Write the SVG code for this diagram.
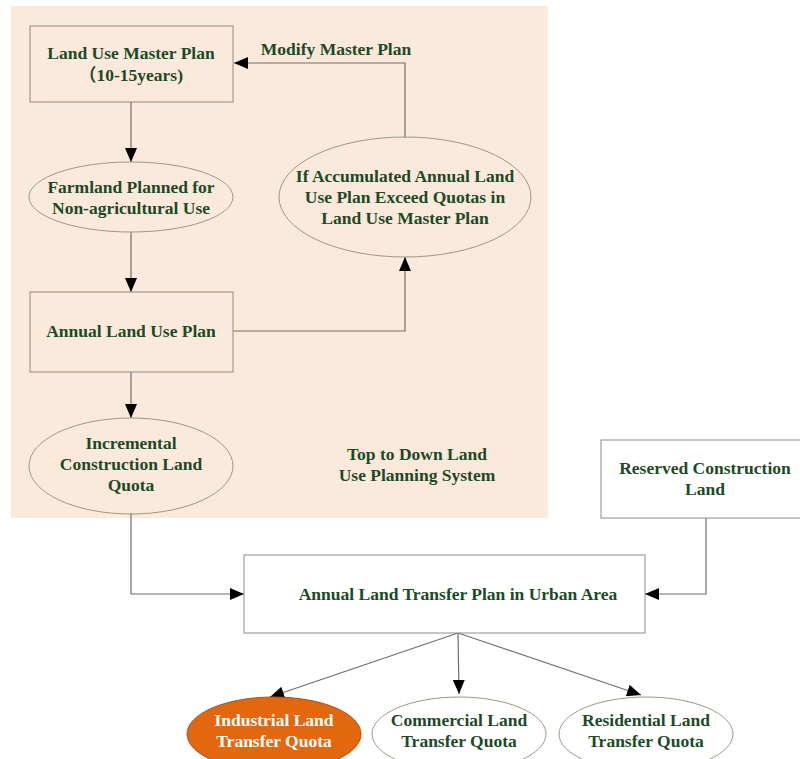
<svg xmlns="http://www.w3.org/2000/svg" width="800" height="759" viewBox="0 0 800 759">
<style>
text{font-family:"Liberation Serif","Times New Roman","Noto Sans CJK SC",serif;font-weight:bold;font-size:17.5px;fill:#1c4a26;text-anchor:middle}
.box{fill:none;stroke:#8c8c8c;stroke-width:1}
.wbox{fill:#fff;stroke:#8c8c8c;stroke-width:1}
.ell{fill:none;stroke:#9a9a84;stroke-width:1}
.wel{fill:#fff;stroke:#9a9a84;stroke-width:1}
.c{fill:none;stroke:#707070;stroke-width:1.2}
</style>
<defs>
<marker id="ah" viewBox="0 0 14 12" refX="14" refY="6" markerWidth="14" markerHeight="12" markerUnits="userSpaceOnUse" orient="auto">
<path d="M0,0 L14,6 L0,12 Z" fill="#000"/>
</marker>
</defs>
<rect x="0" y="0" width="800" height="759" fill="#fff"/>
<rect id="bg" x="11" y="6" width="537" height="512" fill="#fbe9dc"/>

<g id="connectors">
<path class="c" d="M131,102 V162" marker-end="url(#ah)"/>
<path class="c" d="M131,232 V292" marker-end="url(#ah)"/>
<path class="c" d="M233,331 H405 V257" marker-end="url(#ah)"/>
<path class="c" d="M405,138 V63 H234" marker-end="url(#ah)"/>
<path class="c" d="M131,372 V418" marker-end="url(#ah)"/>
<path class="c" d="M131,513 V594 H244" marker-end="url(#ah)"/>
<path class="c" d="M706,518 V594 H645" marker-end="url(#ah)"/>
<path class="c" d="M458,633 L270,697" marker-end="url(#ah)"/>
<path class="c" d="M458,633 L459,694" marker-end="url(#ah)"/>
<path class="c" d="M458,633 L641,695" marker-end="url(#ah)"/>
</g>
<text x="336" y="55">Modify Master Plan</text>

<g id="master">
<rect class="box" x="30" y="26" width="203" height="76"/>
<text x="131" y="59">Land Use Master Plan</text>
<text x="131" y="81">（10-15years)</text>
</g>
<g id="farmland">
<ellipse class="ell" cx="131" cy="197" rx="102" ry="35"/>
<text x="131" y="193">Farmland Planned for</text>
<text x="131" y="214">Non-agricultural Use</text>
</g>
<g id="annual">
<rect class="box" x="30" y="292" width="203" height="80"/>
<text x="131" y="337">Annual Land Use Plan</text>
</g>
<g id="accum">
<ellipse class="ell" cx="405" cy="197" rx="126" ry="60"/>
<text x="405" y="182">If Accumulated Annual Land</text>
<text x="405" y="203">Use Plan Exceed Quotas in</text>
<text x="405" y="224">Land Use Master Plan</text>
</g>
<g id="incremental">
<ellipse class="ell" cx="131" cy="466" rx="102" ry="48"/>
<text x="131" y="449">Incremental</text>
<text x="131" y="470">Construction Land</text>
<text x="131" y="491">Quota</text>
</g>
<g id="label">
<text x="417" y="460">Top to Down Land</text>
<text x="417" y="481">Use Planning System</text>
</g>
<g id="reserved">
<rect class="wbox" x="601" y="440" width="205" height="78"/>
<text x="705" y="474">Reserved Construction</text>
<text x="705" y="495">Land</text>
</g>
<g id="transfer">
<rect class="wbox" x="244" y="555" width="401" height="78"/>
<text x="458" y="600">Annual Land Transfer Plan in Urban Area</text>
</g>
<g id="industrial">
<ellipse cx="274" cy="734" rx="87" ry="37" fill="#e2670f" stroke="#b05010"/>
<text x="274" y="726" style="fill:#fff">Industrial Land</text>
<text x="274" y="747" style="fill:#fff">Transfer Quota</text>
</g>
<g id="commercial">
<ellipse class="wel" cx="459" cy="734" rx="87" ry="37"/>
<text x="459" y="726">Commercial Land</text>
<text x="459" y="747">Transfer Quota</text>
</g>
<g id="residential">
<ellipse class="wel" cx="646" cy="734" rx="87" ry="37"/>
<text x="646" y="726">Residential Land</text>
<text x="646" y="747">Transfer Quota</text>
</g>
</svg>
